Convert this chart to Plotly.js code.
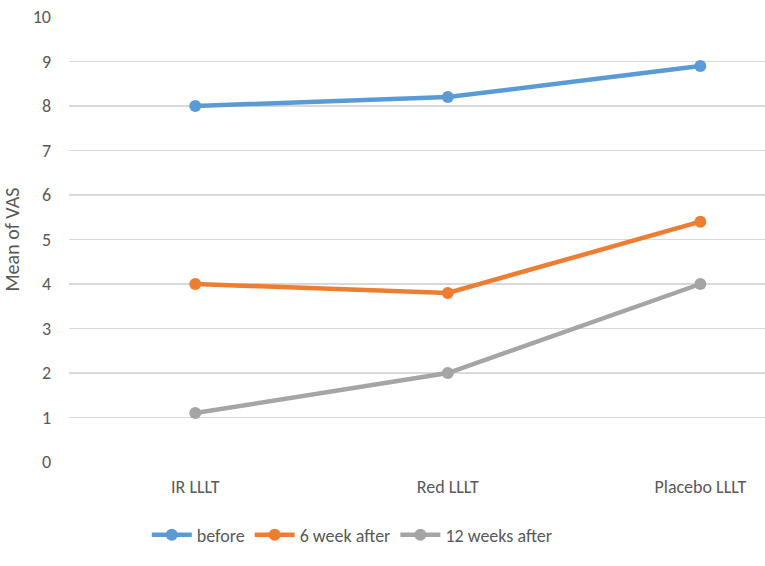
<!DOCTYPE html>
<html>
<head>
<meta charset="utf-8">
<script src="https://cdn.plot.ly/plotly-3.0.1.min.js"></script>
<style>
  html, body { margin: 0; padding: 0; background: #fff; }
  #chart { width: 765px; height: 566px; }
</style>
</head>
<body>
<div id="chart"></div>
<script>
// groups on the x axis
const groups = ['IR LLLT', 'Red LLLT', 'Placebo LLLT'];

// mean VAS per time point
const before = [8.0, 8.2, 8.9];
const week6_after = [4.0, 3.8, 5.4];
const week12_after = [1.1, 2.0, 4.0];

const series_names = ['before', '6 week after', '12 weeks after'];
const series_colours = ['#5B9BD5', '#ED7D31', '#A5A5A5'];

const y_ticks = [0, 1, 2, 3, 4, 5, 6, 7, 8, 9, 10];

const font_family = "Carlito, Calibri, 'Liberation Sans Narrow', 'Open Sans', sans-serif";

const make_trace = (ys, i) => ({
  x: groups,
  y: ys,
  type: 'scatter',
  mode: 'lines+markers',
  name: series_names[i],
  line: { color: series_colours[i], width: 4.5 },
  marker: { color: series_colours[i], size: 12 },
  cliponaxis: false,
});

const data = [before, week6_after, week12_after].map(make_trace);

const layout = {
  width: 765,
  height: 566,
  margin: { l: 69, r: 0, t: 17, b: 104 },
  paper_bgcolor: '#ffffff',
  plot_bgcolor: '#ffffff',
  font: { family: font_family, size: 18, color: '#595959' },
  showlegend: true,
  legend: {
    orientation: 'h',
    x: 0.407,
    xanchor: 'center',
    y: -0.164,
    yanchor: 'middle',
    font: { family: font_family, size: 18, color: '#595959' },
    itemwidth: 40,
    tracegroupgap: 0,
    traceorder: 'normal',
  },
  xaxis: {
    type: 'category',
    range: [-0.5, 2.256],
    showgrid: false,
    zeroline: false,
    showline: false,
    ticks: '',
    tickfont: { family: font_family, size: 18, color: '#595959' },
    ticklabelstandoff: 12,
  },
  yaxis: {
    range: [0, 10],
    tickvals: y_ticks,
    showgrid: true,
    gridcolor: '#D9D9D9',
    gridwidth: 1.3,
    zeroline: false,
    showline: false,
    ticks: '',
    ticklabelstandoff: 17,
    tickfont: { family: font_family, size: 18, color: '#595959' },
    title: {
      text: 'Mean of VAS',
      font: { family: font_family, size: 20, color: '#595959' },
      standoff: 10,
    },
  },
};

Plotly.newPlot('chart', data, layout, { displayModeBar: false, staticPlot: true });
</script>
</body>
</html>
